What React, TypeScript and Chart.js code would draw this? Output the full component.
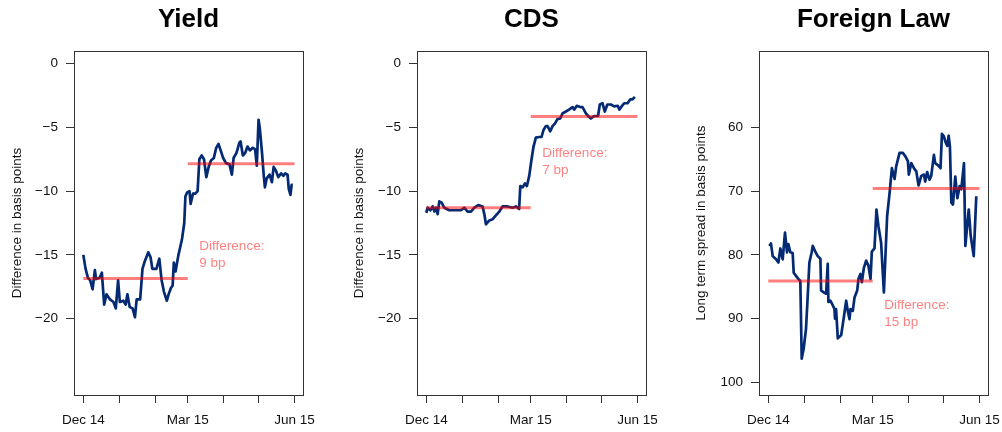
import React, { useEffect, useRef } from "react";
import { Chart, registerables } from "chart.js";

Chart.register(...registerables);

// ---- data ----
const monthTicks = [0, 31, 62, 90, 121, 151, 182];
const monthLabels: Record<number, string> = { 0: "Dec 14", 90: "Mar 15", 182: "Jun 15" };
const diffTicks = [-20, -15, -10, -5, 0];
const spreadTicks = [60, 70, 80, 90, 100];

const yieldDays = [
  0, 2, 4, 6, 8, 10, 11, 14, 16, 18,
  20, 23, 26, 28, 30, 31.5, 34.5, 36.5, 38, 40,
  42.5, 44.5, 46, 49, 51, 53, 56, 58, 59.5, 63,
  65.5, 67.5, 69.5, 72, 73.5, 75.5, 77, 78, 79.5, 82,
  85, 87, 88, 89.5, 91.5, 92.5, 94.5, 96.5, 98.5, 100,
  102, 104, 106, 108, 110, 112.5, 114.5, 116.5, 118, 120.5,
  123, 126, 128, 129.5, 132, 134.5, 135.5, 137.5, 139.5, 141.5,
  143.5, 146, 148, 149.5, 151, 152, 154, 155.5, 156.5, 158,
  160.5, 162.5, 164, 166, 168, 170.5, 172.5, 174, 176, 177,
  178.5, 179.5, 180.5,
];
const yieldValues = [
  -15.0, -16.1, -16.8, -17.0, -17.7, -16.2, -16.9, -16.8, -16.4, -18.9,
  -18.1, -18.5, -18.7, -19.2, -17.0, -18.7, -18.6, -18.9, -18.1, -19.1,
  -19.2, -19.9, -18.5, -18.5, -16.1, -15.5, -14.8, -15.2, -16.1, -16.1,
  -15.3, -17.0, -17.9, -18.6, -18.1, -17.6, -17.4, -15.6, -16.3, -15.0,
  -13.8, -12.5, -10.4, -10.1, -10.0, -11.0, -10.2, -10.2, -10.0, -7.5,
  -7.2, -7.5, -8.9, -8.1, -7.6, -7.4, -6.6, -6.3, -6.7, -7.4,
  -7.8, -7.9, -8.7, -7.4, -7.0, -6.2, -6.1, -7.2, -7.0, -6.5,
  -6.8, -6.6, -6.7, -8.0, -4.4, -5.0, -7.0, -8.8, -9.7, -9.0,
  -8.7, -9.3, -8.1, -8.4, -8.9, -8.6, -8.8, -8.6, -8.7, -9.8,
  -10.3, -9.5, -9.5,
];

const cdsDays = [
  0, 1.2, 3.5, 5.5, 7, 8.4, 9.8, 11.2, 13.2, 15.5,
  19.8, 24, 29.9, 32.7, 35.6, 38.5, 41.4, 44.8, 48.5, 50,
  51.4, 54.3, 57.2, 60, 62.9, 65.7, 70, 74.4, 77.2, 80,
  81, 83, 85, 86.7, 88.7, 90.7, 92.4, 94.4, 97.3, 99.3,
  101, 103, 104.5, 106.8, 108.8, 110.8, 113, 115.4, 117.4, 120.3,
  123, 126, 127.4, 129.7, 132.6, 134.6, 137.5, 139.5, 141.8, 144.7,
  148, 149.5, 151.8, 153.8, 156, 159, 162, 165, 166.3, 168.3,
  170.5, 173.4, 175.7, 177.7, 179.7,
];
const cdsValues = [
  -11.7, -11.3, -11.5, -11.2, -11.6, -11.3, -11.8, -10.8, -10.9, -11.3,
  -11.5, -11.5, -11.5, -11.3, -11.6, -11.6, -11.3, -11.1, -11.2, -11.8,
  -12.6, -12.3, -12.2, -11.9, -11.6, -11.2, -11.2, -11.3, -11.2, -11.4,
  -9.6, -9.7, -9.4, -9.6, -8.8, -7.5, -6.5, -5.8, -5.75, -5.75,
  -5.2, -4.9, -4.9, -5.3, -4.9, -4.7, -4.35, -4.3, -3.9, -3.75,
  -3.6, -3.4, -3.6, -3.3, -3.4, -3.4, -3.9, -4.1, -4.3, -4.1,
  -4.1, -3.2, -3.1, -3.75, -3.2, -3.2, -3.35, -3.3, -3.6, -3.35,
  -3.1, -3.1, -2.8, -2.8, -2.6,
];

const lawDays = [
  0.9, 2.3, 3.8, 6.7, 8.7, 10.4, 12.4, 14.4, 16.1, 17.3,
  19, 21, 21.9, 23.9, 25.9, 27.6, 28.8, 30.5, 32.5, 34,
  35.4, 37.4, 38.3, 40.3, 42.6, 44.9, 45.5, 47.8, 49.8, 51.2,
  51.8, 53.5, 55.5, 57, 57.5, 58.4, 59.9, 62.8, 65.1, 67.1,
  68.5, 70, 70.8, 72.8, 74.3, 76.6, 77.7, 79.4, 80.6, 82.3,
  84.3, 86.3, 88.1, 89.2, 91.5, 93.2, 94.9, 97.2, 99.6, 100.7,
  102.4, 104.5, 106.5, 108.8, 110.2, 113.1, 116, 118, 120.3, 121.1,
  123.2, 125.5, 127.5, 129.5, 131.8, 134.1, 135.2, 136.9, 138.9, 140.4,
  142.7, 143.8, 146.1, 148.4, 149.6, 151.3, 152.5, 154.2, 155.4, 156.5,
  157.7, 159.1, 161.1, 162.9, 164.9, 166.3, 168.6, 169.8, 171.5, 172.7,
  174.4, 177, 179.2,
];
const lawValues = [
  78.6, 78.2, 80.2, 80.7, 81.2, 79.0, 80.7, 76.5, 79.6, 78.3,
  79.6, 79.7, 82.8, 83.3, 83.8, 84.1, 96.3, 94.7, 91.6, 86.4,
  81.2, 79.6, 78.6, 79.4, 80.2, 80.6, 85.6, 85.9, 86.1, 81.4,
  87.4, 87.2, 87.9, 88.5, 90.0, 88.5, 93.1, 92.6, 89.8, 87.2,
  88.8, 90.1, 88.5, 88.8, 86.7, 85.6, 83.8, 83.0, 84.3, 82.1,
  80.9, 81.7, 83.8, 79.5, 79.0, 72.9, 75.5, 78.1, 85.9, 81.2,
  73.9, 70.3, 66.4, 68.1, 66.1, 64.0, 64.0, 64.5, 65.3, 67.4,
  65.6, 66.4, 66.9, 69.1, 67.6, 67.4, 68.5, 67.0, 68.2, 67.6,
  64.3, 65.6, 65.9, 66.4, 61.0, 61.4, 62.2, 62.9, 61.3, 63.0,
  71.8, 72.1, 67.7, 71.1, 69.2, 69.7, 65.6, 78.6, 75.2, 72.9,
  77.0, 80.2, 70.8,
];

// mean levels before / after (value) and period bounds (days)
const periodBefore = [0, 90];
const periodAfter = [90, 182];
const yieldMeans = [-16.85, -7.85];
const cdsMeans = [-11.3, -4.15];
const lawMeans = [84.1, 69.6];

const titles = ["Yield", "CDS", "Foreign Law"];
const yTitles = ["Difference in basis points", "Difference in basis points", "Long term spread in basis points"];
const noteTexts = [["Difference:", "9 bp"], ["Difference:", "7 bp"], ["Difference:", "15 bp"]];
const noteDay = 100;
const noteValues = [-15.0, -7.7, 89.3];

const FONT = "'Liberation Sans', Arial, Helvetica, sans-serif";
const BLUE = "#032a72";
const RED = "rgba(255,0,0,0.5)";

type PanelCfg = {
  title: string;
  yTitle: string;
  days: number[];
  values: number[];
  means: number[];
  yMin: number;
  yMax: number;
  reverse: boolean;
  yTicks: number[];
  note: string[];
  noteValue: number;
  yTitlePad: number;
};

const panels: PanelCfg[] = [
  { title: titles[0], yTitle: yTitles[0], days: yieldDays, values: yieldValues, means: yieldMeans, yMin: -26, yMax: 1, reverse: false, yTicks: diffTicks, note: noteTexts[0], noteValue: noteValues[0], yTitlePad: 9 },
  { title: titles[1], yTitle: yTitles[1], days: cdsDays, values: cdsValues, means: cdsMeans, yMin: -26, yMax: 1, reverse: false, yTicks: diffTicks, note: noteTexts[1], noteValue: noteValues[1], yTitlePad: 8 },
  { title: titles[2], yTitle: yTitles[2], days: lawDays, values: lawValues, means: lawMeans, yMin: 48, yMax: 102, reverse: true, yTicks: spreadTicks, note: noteTexts[2], noteValue: noteValues[2], yTitlePad: 8 },
];

const CANVAS_W = 317;
const CANVAS_H = 432;
const offsets = [0, 343, 685];

function Panel({ cfg, left }: { cfg: PanelCfg; left: number }) {
  const ref = useRef<HTMLCanvasElement | null>(null);
  useEffect(() => {
    if (!ref.current) return;
    const framePlugin = {
      id: "frame" + cfg.title.replace(/\s/g, ""),
      afterDatasetsDraw(chart: any) {
        const { ctx, chartArea } = chart;
        ctx.save();
        ctx.strokeStyle = "#333";
        ctx.lineWidth = 1;
        ctx.strokeRect(Math.round(chartArea.left) + 0.5, Math.round(chartArea.top) + 0.5,
          Math.round(chartArea.right - chartArea.left), Math.round(chartArea.bottom - chartArea.top));
        // annotation
        const xs = chart.scales.x;
        const ys = chart.scales.y;
        const px = xs.getPixelForValue(noteDay);
        const py = ys.getPixelForValue(cfg.noteValue);
        ctx.fillStyle = RED;
        ctx.font = "13.5px " + FONT;
        ctx.textAlign = "left";
        ctx.textBaseline = "middle";
        const lh = 17;
        cfg.note.forEach((t, i) => {
          ctx.fillText(t, px, py + (i - (cfg.note.length - 1) / 2) * lh);
        });
        // title
        ctx.fillStyle = "#000";
        ctx.font = "bold 26px " + FONT;
        ctx.textAlign = "center";
        ctx.textBaseline = "alphabetic";
        ctx.fillText(cfg.title, (chartArea.left + chartArea.right) / 2, 27);
        ctx.restore();
      },
    };
    const chart = new Chart(ref.current, {
      type: "line",
      data: {
        datasets: [
          {
            data: [
              { x: periodBefore[0], y: cfg.means[0] },
              { x: periodBefore[1], y: cfg.means[0] },
            ],
            borderColor: RED,
            borderWidth: 3,
            pointRadius: 0,
            order: 0,
          },
          {
            data: [
              { x: periodAfter[0], y: cfg.means[1] },
              { x: periodAfter[1], y: cfg.means[1] },
            ],
            borderColor: RED,
            borderWidth: 3,
            pointRadius: 0,
            order: 0,
          },
          {
            data: cfg.days.map((d, i) => ({ x: d, y: cfg.values[i] })),
            borderColor: BLUE,
            borderWidth: 2.7,
            pointRadius: 0,
            tension: 0,
            borderJoinStyle: "round",
            order: 1,
          },
        ],
      },
      options: {
        animation: false,
        responsive: false,
        devicePixelRatio: 1,
        layout: { padding: { top: 51, right: 14, bottom: 0, left: 0 } },
        plugins: { legend: { display: false }, tooltip: { enabled: false }, title: { display: false } },
        scales: {
          x: {
            type: "linear",
            min: -8,
            max: 189.3,
            border: { display: false },
            grid: { drawOnChartArea: false, drawTicks: true, tickLength: 8, color: "#333", tickColor: "#333" },
            afterBuildTicks: (s: any) => {
              s.ticks = monthTicks.map((v) => ({ value: v }));
            },
            afterFit: (s: any) => {
              s.height = CANVAS_H - 395;
              s.paddingLeft = 0;
              s.paddingRight = 0;
            },
            ticks: {
              autoSkip: false,
              maxRotation: 0,
              padding: 9,
              color: "#111",
              font: { family: FONT, size: 13.5 },
              callback: (v: any) => monthLabels[v as number] ?? "",
            },
          },
          y: {
            type: "linear",
            min: cfg.yMin,
            max: cfg.yMax,
            reverse: cfg.reverse,
            border: { display: false },
            grid: { drawOnChartArea: false, drawTicks: true, tickLength: 8, color: "#333", tickColor: "#333" },
            afterBuildTicks: (s: any) => {
              s.ticks = cfg.yTicks.map((v) => ({ value: v }));
            },
            afterFit: (s: any) => {
              s.width = 74;
              s.paddingTop = 0;
              s.paddingBottom = 0;
            },
            ticks: {
              padding: 8,
              color: "#111",
              font: { family: FONT, size: 13.5 },
              callback: (v: any) => (v < 0 ? "\u2212" + Math.abs(v) : String(v)),
            },
            title: {
              display: true,
              text: cfg.yTitle,
              color: "#111",
              font: { family: FONT, size: 13.5 },
              padding: { top: cfg.yTitlePad, bottom: 0 },
            },
          },
        },
      } as any,
      plugins: [framePlugin],
    });
    return () => chart.destroy();
  }, [cfg]);
  return (
    <canvas
      ref={ref}
      width={CANVAS_W}
      height={CANVAS_H}
      style={{ position: "absolute", left, top: 0, width: CANVAS_W, height: CANVAS_H, display: "block" }}
    />
  );
}

export default function App() {
  return (
    <div style={{ position: "absolute", left: 0, top: 0, width: 1002, height: 432, background: "#fff", overflow: "hidden" }}>
      {panels.map((p, i) => (
        <Panel key={i} cfg={p} left={offsets[i]} />
      ))}
    </div>
  );
}
